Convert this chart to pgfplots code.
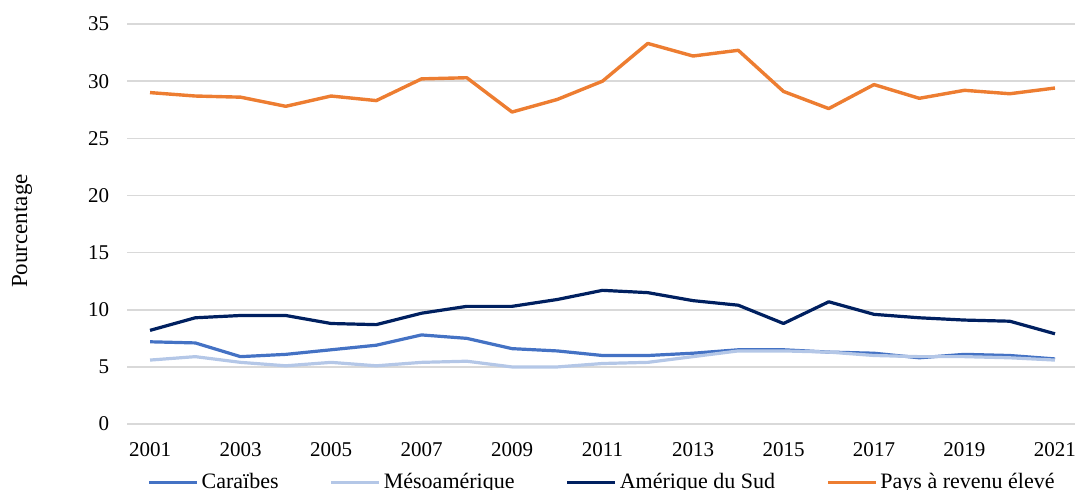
\documentclass[border=0pt]{standalone}
\usepackage{fontspec}
\setmainfont{Liberation Serif}
\usepackage{pgfplots}
\pgfplotsset{compat=1.18}
\definecolor{carib}{HTML}{4472C4}
\definecolor{meso}{HTML}{B4C7E7}
\definecolor{sud}{HTML}{002060}
\definecolor{haut}{HTML}{ED7D31}
\definecolor{gridc}{HTML}{D9D9D9}
\begin{document}
\begin{tikzpicture}
\begin{axis}[name=ax, at={(0,0)}, anchor=south west,
  width=475pt, height=200pt, scale only axis,
  xmin=2000.5, xmax=2021.5, ymin=0, ymax=35,
  xtick={2001,2003,...,2021}, ytick={0,5,...,35},
  axis line style={draw=none}, tick style={draw=none},
  ymajorgrids, grid style={gridc, line width=0.75pt},
  /pgf/number format/assume math mode=true,
  /pgf/number format/1000 sep={},
  tick label style={font=\fontsize{10.5}{12}\selectfont},
  xticklabel style={anchor=north, inner sep=0pt, yshift=-9pt},
  yticklabel style={anchor=east, inner sep=0pt, xshift=-9pt},
  ylabel={Pourcentage},
  every axis y label/.style={at={(axis description cs:-0.111,0.4825)}, rotate=90, anchor=center, font=\fontsize{11.5}{13}\selectfont},
  legend columns=4,
  legend image code/.code={\draw[#1] (0pt,0pt) -- (24pt,0pt);},
  legend style={at={(axis description cs:0.5,0)}, anchor=north, yshift=-23pt, draw=none, fill=none,
    font=\fontsize{11}{13}\selectfont, inner sep=0pt,
    nodes={inner sep=1.5pt},
    /tikz/every even column/.append style={column sep=24pt}},
  line join=round,
]
\addplot[carib, line width=1.6pt] coordinates {
(2001,7.2)(2002,7.1)(2003,5.9)(2004,6.1)(2005,6.5)(2006,6.9)(2007,7.8)(2008,7.5)(2009,6.6)(2010,6.4)(2011,6.0)(2012,6.0)(2013,6.2)(2014,6.5)(2015,6.5)(2016,6.3)(2017,6.2)(2018,5.8)(2019,6.1)(2020,6.0)(2021,5.7)};
\addlegendentry{Caraïbes}
\addplot[meso, line width=1.6pt] coordinates {
(2001,5.6)(2002,5.9)(2003,5.4)(2004,5.1)(2005,5.4)(2006,5.1)(2007,5.4)(2008,5.5)(2009,5.0)(2010,5.0)(2011,5.3)(2012,5.4)(2013,5.9)(2014,6.4)(2015,6.4)(2016,6.3)(2017,6.0)(2018,5.9)(2019,5.9)(2020,5.8)(2021,5.6)};
\addlegendentry{Mésoamérique}
\addplot[sud, line width=1.6pt] coordinates {
(2001,8.2)(2002,9.3)(2003,9.5)(2004,9.5)(2005,8.8)(2006,8.7)(2007,9.7)(2008,10.3)(2009,10.3)(2010,10.9)(2011,11.7)(2012,11.5)(2013,10.8)(2014,10.4)(2015,8.8)(2016,10.7)(2017,9.6)(2018,9.3)(2019,9.1)(2020,9.0)(2021,7.9)};
\addlegendentry{Amérique du Sud}
\addplot[haut, line width=1.7pt] coordinates {
(2001,29.0)(2002,28.7)(2003,28.6)(2004,27.8)(2005,28.7)(2006,28.3)(2007,30.2)(2008,30.3)(2009,27.3)(2010,28.4)(2011,30.0)(2012,33.3)(2013,32.2)(2014,32.7)(2015,29.1)(2016,27.6)(2017,29.7)(2018,28.5)(2019,29.2)(2020,28.9)(2021,29.4)};
\addlegendentry{Pays à revenu élevé}
\end{axis}
\pgfresetboundingbox
\path[use as bounding box] ([xshift=-63.7pt,yshift=-32.5pt]ax.south west) rectangle ([xshift=-1.3pt,yshift=12pt]ax.north east);
\end{tikzpicture}
\end{document}
